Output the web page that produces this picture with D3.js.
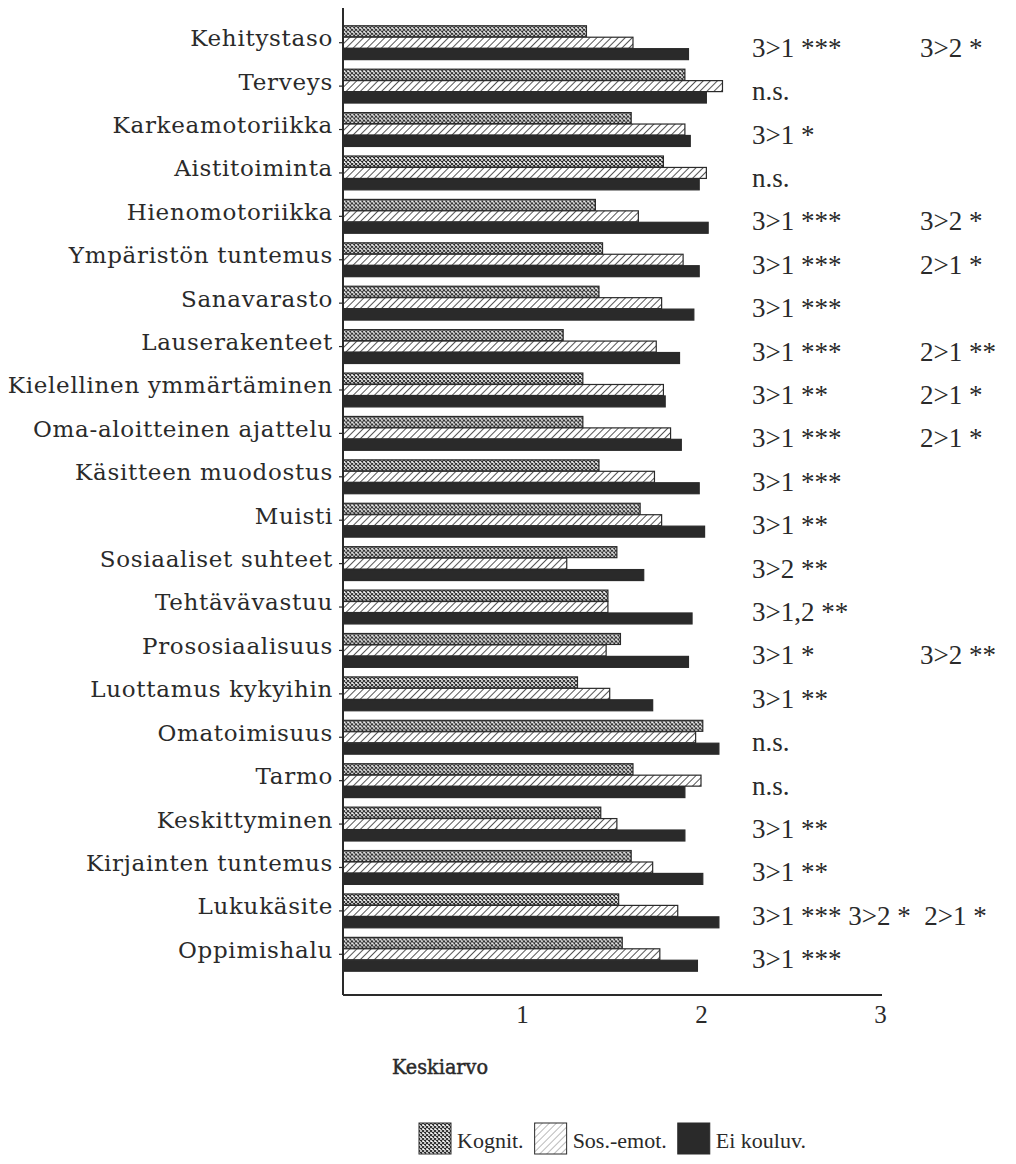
<!DOCTYPE html>
<html>
<head>
<meta charset="utf-8">
<script src="https://cdn.jsdelivr.net/npm/d3@7"></script>
<style>
  body { margin: 0; background: #fff; }
  svg { display: block; }
</style>
</head>
<body>
<div id="chart"></div>
<script>
const categories = ["Kehitystaso", "Terveys", "Karkeamotoriikka", "Aistitoiminta", "Hienomotoriikka",
  "Ympäristön tuntemus", "Sanavarasto", "Lauserakenteet", "Kielellinen ymmärtäminen",
  "Oma-aloitteinen ajattelu", "Käsitteen muodostus", "Muisti", "Sosiaaliset suhteet",
  "Tehtävävastuu", "Prososiaalisuus", "Luottamus kykyihin", "Omatoimisuus", "Tarmo",
  "Keskittyminen", "Kirjainten tuntemus", "Lukukäsite", "Oppimishalu"];

const seriesNames = ["Kognit.", "Sos.-emot.", "Ei kouluv."];

const kognit = [1.36, 1.91, 1.61, 1.79, 1.41, 1.45, 1.43, 1.23, 1.34, 1.34, 1.43, 1.66,
  1.53, 1.48, 1.55, 1.31, 2.01, 1.62, 1.44, 1.61, 1.54, 1.56];
const sosEmot = [1.62, 2.12, 1.91, 2.03, 1.65, 1.90, 1.78, 1.75, 1.79, 1.83, 1.74, 1.78,
  1.25, 1.48, 1.47, 1.49, 1.97, 2.00, 1.53, 1.73, 1.87, 1.77];
const eiKouluv = [1.93, 2.03, 1.94, 1.99, 2.04, 1.99, 1.96, 1.88, 1.80, 1.89, 1.99, 2.02,
  1.68, 1.95, 1.93, 1.73, 2.10, 1.91, 1.91, 2.01, 2.10, 1.98];

// significance notes: first and second column
const notes1 = ["3>1 ***", "n.s.", "3>1 *", "n.s.", "3>1 ***", "3>1 ***", "3>1 ***", "3>1 ***",
  "3>1 **", "3>1 ***", "3>1 ***", "3>1 **", "3>2 **", "3>1,2 **", "3>1 *", "3>1 **",
  "n.s.", "n.s.", "3>1 **", "3>1 **", "3>1 *** 3>2 *  2>1 *", "3>1 ***"];
const notes2 = ["3>2 *", "", "", "", "3>2 *", "2>1 *", "", "2>1 **", "2>1 *", "2>1 *", "", "",
  "", "", "3>2 **", "", "", "", "", "", "", ""];

const xTicks = [1, 2, 3];
const axisTitle = "Keskiarvo";

const W = 1016, H = 1164;
const svg = d3.select("#chart").append("svg").attr("width", W).attr("height", H);

const ink = "#2a2a2a";
const defs = svg.append("defs");

// crosshatch pattern
const pc = defs.append("pattern").attr("id", "cross").attr("patternUnits", "userSpaceOnUse")
  .attr("width", 4).attr("height", 4);
pc.append("rect").attr("width", 4).attr("height", 4).attr("fill", "#fff");
pc.append("path").attr("d", "M0,0L4,4M4,0L0,4").attr("stroke", ink).attr("stroke-width", 1.1);

// diagonal hatch
const ph = defs.append("pattern").attr("id", "hatch").attr("patternUnits", "userSpaceOnUse")
  .attr("width", 5).attr("height", 5).attr("patternTransform", "rotate(45)");
ph.append("rect").attr("width", 5).attr("height", 5).attr("fill", "#fff");
ph.append("line").attr("x1", 0).attr("y1", 0).attr("x2", 0).attr("y2", 5)
  .attr("stroke", ink).attr("stroke-width", 1.6);

const ph2 = defs.append("pattern").attr("id", "hatchLight").attr("patternUnits", "userSpaceOnUse")
  .attr("width", 5).attr("height", 5).attr("patternTransform", "rotate(45)");
ph2.append("rect").attr("width", 5).attr("height", 5).attr("fill", "#fff");
ph2.append("line").attr("x1", 0).attr("y1", 0).attr("x2", 0).attr("y2", 5)
  .attr("stroke", "#777").attr("stroke-width", 1);

const fills = ["url(#cross)", "url(#hatch)", ink];

const x = d3.scaleLinear().domain([0, 3]).range([343, 880]);
const y = d3.scaleBand().domain(categories).range([21, 976]).paddingInner(0.22).paddingOuter(0.11);
const sub = d3.scaleBand().domain(d3.range(3)).range([0, y.bandwidth()]).paddingInner(0.04);

const rows = categories.map((c, i) => ({ cat: c, vals: [kognit[i], sosEmot[i], eiKouluv[i]], i }));

const groups = svg.append("g").selectAll("g").data(rows).join("g")
  .attr("transform", d => `translate(0,${y(d.cat)})`);

groups.selectAll("rect").data(d => d.vals.map((v, k) => ({ v, k }))).join("rect")
  .attr("x", x(0))
  .attr("y", d => sub(d.k))
  .attr("width", d => x(d.v) - x(0))
  .attr("height", sub.bandwidth())
  .attr("fill", d => fills[d.k])
  .attr("stroke", ink)
  .attr("stroke-width", 1.2);

// category labels
svg.append("g").selectAll("text").data(categories).join("text")
  .attr("x", 333)
  .attr("y", d => y(d) + y.bandwidth() / 2)
  .attr("dy", "0.15em")
  .attr("text-anchor", "end")
  .attr("font-family", "'DejaVu Serif', serif")
  .attr("font-size", 23)
  .attr("letter-spacing", 0.7)
  .attr("fill", ink)
  .text(d => d);

// notes
const noteFont = "'Liberation Serif', 'Times New Roman', serif";
svg.append("g").selectAll("text").data(rows).join("text")
  .attr("x", 752)
  .attr("y", d => y(d.cat) + y.bandwidth() / 2 + 14)
  .attr("font-family", noteFont)
  .attr("font-size", 27)
  .attr("fill", ink)
  .attr("xml:space", "preserve")
  .style("white-space", "pre")
  .text(d => notes1[d.i]);

svg.append("g").selectAll("text").data(rows.filter(d => notes2[d.i])).join("text")
  .attr("x", 920)
  .attr("y", d => y(d.cat) + y.bandwidth() / 2 + 14)
  .attr("font-family", noteFont)
  .attr("font-size", 27)
  .attr("fill", ink)
  .text(d => notes2[d.i]);

// axes
const axisY = 995;
svg.append("line").attr("x1", x(0)).attr("x2", x(0)).attr("y1", 8).attr("y2", axisY)
  .attr("stroke", ink).attr("stroke-width", 2);
svg.append("g").selectAll("line").data(categories).join("line")
  .attr("x1", x(0) - 4).attr("x2", x(0))
  .attr("y1", d => y(d) + y.bandwidth() / 2).attr("y2", d => y(d) + y.bandwidth() / 2)
  .attr("stroke", ink).attr("stroke-width", 1.2);

const xAxis = svg.append("g").attr("transform", `translate(0,${axisY})`)
  .call(d3.axisBottom(x).tickValues(xTicks).tickSize(0).tickPadding(10).tickFormat(d3.format("d")));
xAxis.select(".domain").attr("stroke", ink).attr("stroke-width", 2).attr("d", `M${x(0)},0H${x(3) + 2}`);
xAxis.selectAll("text").attr("font-family", noteFont).attr("font-size", 25).attr("fill", ink);

svg.append("text").attr("x", 392).attr("y", 1074)
  .attr("font-family", "'DejaVu Serif', serif").attr("font-size", 21).attr("fill", ink)
  .attr("stroke", ink).attr("stroke-width", 0.5)
  .attr("textLength", 96).attr("lengthAdjust", "spacingAndGlyphs")
  .text(axisTitle);

// legend: swatch, label, laid out in a row from legLeft to legRight
const legendFills = ["url(#cross)", "url(#hatchLight)", ink];
const sw = 32, swGap = 6, legLeft = 419, legRight = 806, legTop = 1123;
const lg = svg.append("g").selectAll("g").data(seriesNames).join("g");
lg.append("rect").attr("width", sw).attr("height", 31)
  .attr("fill", (d, i) => legendFills[i]).attr("stroke", ink).attr("stroke-width", 1);
const lt = lg.append("text").attr("x", sw + swGap).attr("y", 25)
  .attr("font-family", noteFont).attr("font-size", 22).attr("fill", ink)
  .text(d => d);
const widths = lt.nodes().map(n => n.getComputedTextLength());
const used = d3.sum(widths) + seriesNames.length * (sw + swGap);
const between = (legRight - legLeft - used) / (seriesNames.length - 1);
let cursor = legLeft;
lg.attr("transform", (d, i) => {
  const t = `translate(${cursor},${legTop})`;
  cursor += sw + swGap + widths[i] + between;
  return t;
});
</script>
</body>
</html>
